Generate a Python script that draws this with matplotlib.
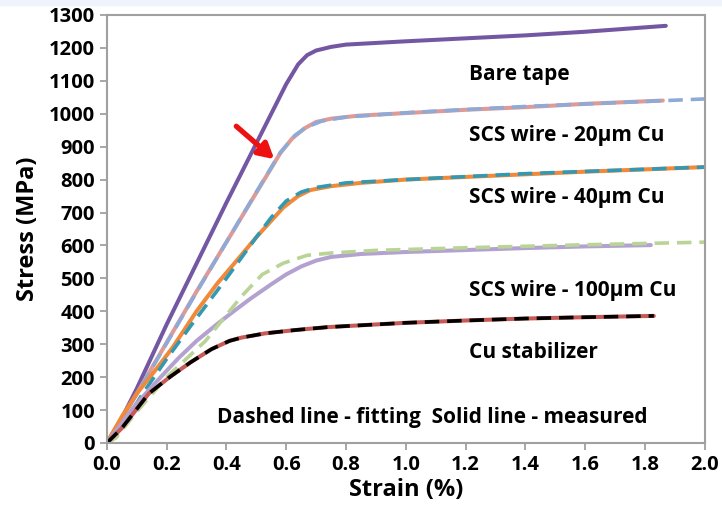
import matplotlib
matplotlib.use("Agg")
import matplotlib.pyplot as plt
from matplotlib.patches import Rectangle

# measured (solid) and fitted (dashed) stress-strain curves
bare_x = [0, 0.05, 0.1, 0.2, 0.3, 0.4, 0.5, 0.6, 0.64, 0.67, 0.7, 0.75, 0.8, 0.9, 1.0, 1.2, 1.4, 1.6, 1.87]
bare_y = [0, 75, 165, 360, 545, 730, 910, 1090, 1150, 1178, 1192, 1203, 1210, 1215, 1220, 1229, 1238, 1249, 1267]

cu20_x = [0, 0.05, 0.1, 0.2, 0.3, 0.4, 0.5, 0.58, 0.62, 0.66, 0.7, 0.75, 0.84, 1.0, 1.2, 1.4, 1.6, 1.86]
cu20_y = [0, 70, 150, 305, 460, 610, 760, 880, 925, 955, 975, 985, 994, 1002, 1012, 1020, 1030, 1040]
cu20_fit_x = [0, 0.1, 0.2, 0.3, 0.4, 0.5, 0.58, 0.63, 0.67, 0.72, 0.8, 1.0, 1.4, 2.0]
cu20_fit_y = [0, 148, 303, 458, 610, 762, 882, 935, 960, 978, 990, 1003, 1022, 1045]

cu40_x = [0, 0.05, 0.1, 0.17, 0.22, 0.3, 0.37, 0.44, 0.5, 0.59, 0.64, 0.68, 0.75, 0.85, 1.0, 1.2, 1.4, 1.6, 1.8, 2.0]
cu40_y = [0, 80, 150, 230, 290, 400, 485, 560, 625, 715, 750, 768, 780, 790, 800, 808, 816, 824, 831, 838]
cu40_fit_x = [0, 0.03, 0.12, 0.2, 0.28, 0.4, 0.5, 0.55, 0.6, 0.65, 0.7, 0.8, 1.0, 1.4, 2.0]
cu40_fit_y = [0, 20, 150, 255, 355, 500, 625, 685, 735, 762, 776, 790, 800, 818, 838]

cu100_x = [0, 0.05, 0.1, 0.18, 0.24, 0.3, 0.37, 0.43, 0.48, 0.55, 0.6, 0.65, 0.7, 0.75, 0.85, 1.0, 1.2, 1.4, 1.6, 1.82]
cu100_y = [0, 60, 120, 200, 258, 310, 362, 404, 438, 482, 512, 536, 554, 565, 574, 580, 586, 592, 597, 601]
cu100_fit_x = [0, 0.03, 0.1, 0.2, 0.33, 0.45, 0.52, 0.59, 0.67, 0.75, 0.9, 1.2, 1.6, 2.0]
cu100_fit_y = [0, 15, 95, 200, 310, 445, 512, 546, 570, 577, 585, 593, 602, 610]

cu_x = [0, 0.05, 0.14, 0.21, 0.28, 0.35, 0.41, 0.45, 0.53, 0.63, 0.74, 0.9, 1.0, 1.2, 1.4, 1.6, 1.83]
cu_y = [0, 45, 150, 200, 245, 285, 310, 320, 333, 343, 352, 360, 365, 372, 378, 382, 386]

labels = ["Bare tape", "SCS wire - 20\u00b5m Cu", "SCS wire - 40\u00b5m Cu",
          "SCS wire - 100\u00b5m Cu", "Cu stabilizer"]
label_y = [1118, 933, 747, 462, 276]

plt.rcParams["font.family"] = ["Open Sans", "DejaVu Sans"]
plt.rcParams["font.weight"] = "bold"

fig = plt.figure(figsize=(7.22, 5.16), dpi=100)
fig.patches.append(Rectangle((0, 0.99), 1, 0.01, transform=fig.transFigure,
                             color="#eef4fa", zorder=0))
ax = fig.add_axes([0.148, 0.1415, 0.828, 0.8295])

solid = dict(lw=2.9, solid_capstyle="round")
dash = dict(lw=2.6, dashes=(4, 2.2))

ax.plot(bare_x, bare_y, color="#7457a3", **solid)
ax.plot(cu20_x, cu20_y, color="#dc9a98", **solid)
ax.plot(cu20_fit_x, cu20_fit_y, color="#8eaad6", **dash)
ax.plot(cu40_x, cu40_y, color="#f08a3a", **solid)
ax.plot(cu40_fit_x, cu40_fit_y, color="#3399b3", **dash)
ax.plot(cu100_x, cu100_y, color="#b3a2cf", **solid)
ax.plot(cu100_fit_x, cu100_fit_y, color="#b9d496", **dash)
ax.plot(cu_x, cu_y, color="#c55a57", **solid)
ax.plot(cu_x, cu_y, color="black", **dash)

for txt, yy in zip(labels, label_y):
    ax.text(1.21, yy, txt, fontsize=15, fontweight="bold", va="center", ha="left")
ax.text(0.37, 76, "Dashed line - fitting  Solid line - measured", fontsize=15,
        fontweight="bold", va="center", ha="left")

ax.annotate("", xy=(0.56, 862), xytext=(0.433, 962),
            arrowprops=dict(arrowstyle="-|>,head_length=0.9,head_width=0.5",
                            color="#ee1111", lw=3.8, shrinkA=0, shrinkB=0))

ax.set_xlim(0, 2.0)
ax.set_ylim(0, 1300)
ax.set_xticks([i / 5 for i in range(11)])
ax.set_xticklabels(["%.1f" % (i / 5) for i in range(11)])
ax.set_yticks(range(0, 1301, 100))
for s in ax.spines.values():
    s.set_color("#a0a0a0")
    s.set_linewidth(1.5)
ax.tick_params(axis="both", colors="#a0a0a0", labelcolor="black", labelsize=14.5,
               length=5, width=1.3)
for lab in ax.get_xticklabels() + ax.get_yticklabels():
    lab.set_fontweight("bold")

ax.set_xlabel("Strain (%)", fontsize=17, fontweight="bold", labelpad=2)
ax.set_ylabel("Stress (MPa)", fontsize=17, fontweight="bold", labelpad=6)

fig.savefig("out.png", dpi=100)
